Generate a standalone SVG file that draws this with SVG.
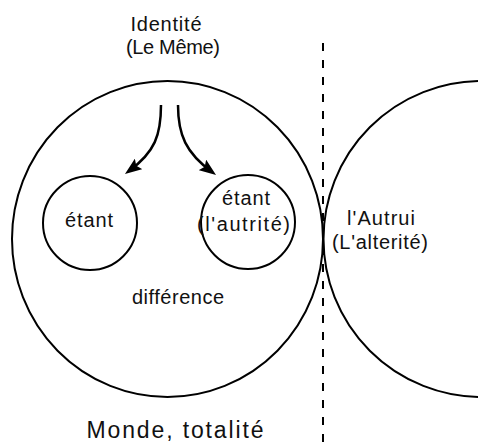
<svg xmlns="http://www.w3.org/2000/svg" width="478" height="443" viewBox="0 0 478 443">
<defs>
<style>
.c{fill:none;stroke:#000;stroke-width:2}
.a{fill:none;stroke:#000;stroke-width:2.5}
.t{font-family:"Liberation Sans",Arial,sans-serif;font-size:20px;fill:#111;text-anchor:middle}
.big{font-size:23px}
</style>
<marker id="ah" markerUnits="userSpaceOnUse" markerWidth="17" markerHeight="13" viewBox="0 0 17 13" refX="12" refY="6.5" orient="auto">
<path d="M0,0 L17,6.5 L0,13 L3,6.5 z" fill="#000"/>
</marker>
</defs>
<rect width="478" height="443" fill="#fff"/>
<g id="monde">
<ellipse class="c" cx="167.5" cy="239" rx="155.5" ry="158"/>
<text class="t big" x="175" y="438" textLength="177">Monde, totalité</text>
<text class="t" x="178" y="304" textLength="92">différence</text>
</g>
<g id="identite">
<text class="t" x="166" y="31" textLength="71">Identité</text>
<text class="t" x="173" y="54" textLength="94">(Le Même)</text>
</g>
<g id="etant1">
<circle class="c" cx="90" cy="223" r="47"/>
<text class="t" x="89" y="227" textLength="48">étant</text>
</g>
<g id="etant2">
<circle class="c" cx="248" cy="222" r="47"/>
<text class="t" x="246" y="205" textLength="48">étant</text>
<text class="t" x="243.5" y="231" textLength="93">(l'autrité)</text>
</g>
<g id="autrui">
<circle class="c" cx="481.5" cy="239" r="158"/>
<text class="t" x="381" y="225" textLength="68">l'Autrui</text>
<text class="t" x="380" y="249" textLength="96">(L'alterité)</text>
</g>
<g id="connectors">
<path class="a" d="M161,105 C161,135 155,152 129,171" marker-end="url(#ah)"/>
<path class="a" d="M178,105 C178,135 186,153 212,172" marker-end="url(#ah)"/>
<line x1="323" y1="43" x2="323" y2="442" stroke="#000" stroke-width="2" stroke-dasharray="8 9"/>
</g>
</svg>
